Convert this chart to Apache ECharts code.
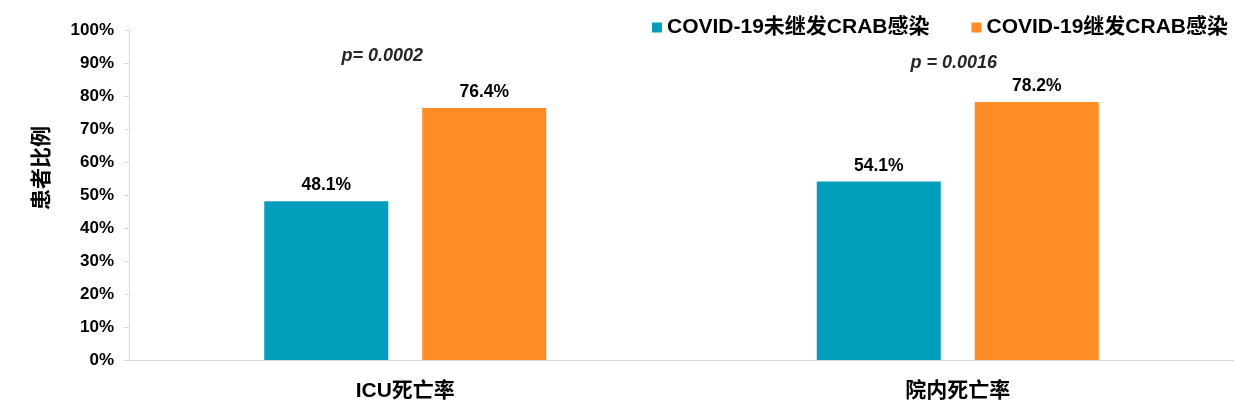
<!DOCTYPE html>
<html>
<head>
<meta charset="utf-8">
<script src="https://cdn.jsdelivr.net/npm/echarts@6/dist/echarts.min.js"></script>
<style>
html,body{margin:0;padding:0;background:#fff;}
#chart{width:1235px;height:416px;}
</style>
</head>
<body>
<div id="chart"></div>
<script>
var categories = ['ICU死亡率', '院内死亡率'];
var seriesNames = ['COVID-19未继发CRAB感染', 'COVID-19继发CRAB感染'];
var noCRAB = [48.1, 54.1];
var withCRAB = [76.4, 78.2];
var pLabels = ['p= 0.0002', 'p = 0.0016'];
var pLevels = [92.1, 90.0];
var yTicks = [0, 100, 10];

var FONT = "'Liberation Sans', Arial, 'Noto Sans CJK SC', sans-serif";
var chart = echarts.init(document.getElementById('chart'), null, {renderer: 'canvas'});

var option = {
  backgroundColor: '#ffffff',
  animation: false,
  textStyle: {fontFamily: FONT},
  legend: {
    data: seriesNames,
    right: 2,
    top: 12,
    icon: 'rect',
    itemWidth: 10,
    itemHeight: 10,
    itemGap: 42,
    textStyle: {fontSize: 21, fontWeight: 'bold', color: '#000', fontFamily: FONT}
  },
  grid: {left: 129, right: 1, top: 30, bottom: 56},
  xAxis: {
    type: 'category',
    data: categories,
    axisLine: {show: true, lineStyle: {color: '#d9d9d9', width: 1}},
    axisTick: {show: false},
    axisLabel: {fontSize: 21, fontWeight: 'bold', color: '#000', margin: 21, fontFamily: FONT}
  },
  yAxis: {
    type: 'value',
    min: yTicks[0],
    max: yTicks[1],
    interval: yTicks[2],
    name: '患者比例',
    nameLocation: 'middle',
    nameRotate: 90,
    nameGap: 76,
    nameTextStyle: {fontSize: 21, fontWeight: 'bold', color: '#000', padding: [0, 0, 0, 54], fontFamily: FONT},
    axisLine: {show: true, lineStyle: {color: '#d9d9d9', width: 1}},
    axisTick: {show: true, length: 5, lineStyle: {color: '#d9d9d9'}},
    splitLine: {show: false},
    axisLabel: {formatter: '{value}%', fontSize: 17, fontWeight: 'bold', color: '#000', margin: 15, fontFamily: FONT}
  },
  series: [
    {
      name: seriesNames[0],
      type: 'bar',
      data: noCRAB,
      barWidth: 124,
      barGap: '27.4%',
      itemStyle: {color: '#019FBC'},
      label: {show: true, position: 'top', distance: 7, formatter: '{c}%', fontSize: 17.5, fontWeight: 'bold', color: '#000', fontFamily: FONT}
    },
    {
      name: seriesNames[1],
      type: 'bar',
      data: withCRAB,
      barWidth: 124,
      barGap: '27.4%',
      itemStyle: {color: '#FF8C25'},
      label: {show: true, position: 'top', distance: 7, formatter: '{c}%', fontSize: 17.5, fontWeight: 'bold', color: '#000', fontFamily: FONT}
    },
    {
      name: 'p',
      type: 'scatter',
      symbolSize: 0,
      silent: true,
      itemStyle: {opacity: 1},
      data: categories.map(function (c, i) {
        return {value: [c, pLevels[i]], name: pLabels[i], label: {offset: [i === 0 ? -23 : -4, 0]}};
      }),
      label: {
        show: true,
        position: 'inside',
        formatter: function (p) { return p.name; },
        fontSize: 18,
        fontWeight: 'bold',
        fontStyle: 'italic',
        color: '#262626',
        opacity: 1,
        fontFamily: FONT
      }
    }
  ]
};
chart.setOption(option);
</script>
</body>
</html>
